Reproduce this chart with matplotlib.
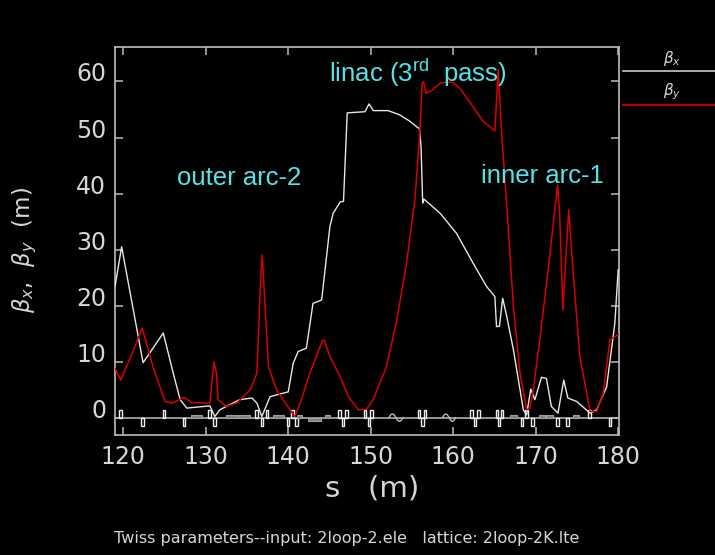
import numpy as np
import matplotlib
matplotlib.use("Agg")
import matplotlib.pyplot as plt
from matplotlib.patches import Rectangle
from matplotlib.lines import Line2D

plt.rcParams['mathtext.rm'] = 'Liberation Sans'
plt.rcParams['mathtext.it'] = 'Liberation Sans:italic'

# ---------------- data ----------------
s_bx = [119.0, 119.8, 122.4, 124.85, 126.06, 126.9, 127.7, 130.5, 131.1, 131.7, 134.1, 135.6,
        136.2, 136.8, 137.8, 140.0, 140.6, 141.2, 142.2, 143.0, 144.05, 145.05, 145.45,
        146.3, 146.7, 147.15, 149.3, 149.8, 150.3, 152.1, 153.5, 154.75, 155.75, 155.9,
        156.1, 156.3, 156.45, 158.4, 160.4, 162.4, 164.05, 165.05, 165.25, 165.6, 166.0,
        166.5, 167.3, 168.5, 168.9, 169.4, 169.9, 170.7, 171.3, 171.9, 172.7, 173.4, 173.9,
        174.95, 176.6, 177.4, 178.6, 179.6, 180.0]
beta_x = [23.4, 30.5, 9.8, 15.1, 7.9, 3.2, 1.7, 2.1, 0.2, 1.4, 3.2, 3.5,
          2.6, 0.2, 3.75, 4.6, 9.7, 11.8, 12.4, 20.4, 21.0, 34.1, 36.5,
          38.5, 38.6, 54.4, 54.6, 56.0, 54.8, 54.8, 54.05, 52.9, 51.7, 51.7,
          48.4, 38.3, 39.0, 36.5, 32.9, 27.6, 23.4, 21.6, 16.25, 16.3, 21.3,
          18.0, 12.1, 1.4, 0.5, 5.1, 3.2, 7.2, 7.0, 2.0, 0.8, 6.7, 3.5,
          2.9, 0.8, 1.4, 5.5, 16.9, 26.4]

s_by = [119.0, 119.7, 121.0, 122.3, 123.6, 125.05, 125.9, 127.35, 128.3, 130.5, 131.0, 131.3,
        131.5, 132.5, 133.75, 135.35, 136.2, 136.65, 136.85, 137.1, 137.6, 138.6, 140.2,
        140.8, 141.6, 142.6, 144.2, 144.4, 145.05, 146.3, 147.3, 148.5, 149.5, 150.3, 151.9,
        153.1, 154.35, 155.35, 155.9, 156.25, 156.4, 156.7, 157.4, 158.4, 159.2, 160.0,
        160.8, 162.4, 163.6, 165.05, 165.45, 165.9, 166.5, 167.3, 168.1, 168.9, 169.3,
        169.7, 170.5, 171.7, 172.65, 172.9, 173.3, 173.55, 174.0, 174.55, 175.35, 176.6,
        177.4, 178.2, 179.0, 180.0]
beta_y = [8.8, 6.7, 11.2, 16.0, 9.1, 2.9, 2.6, 3.6, 2.7, 2.6, 10.0, 7.9,
          3.2, 2.0, 2.6, 4.9, 7.9, 24.6, 29.05, 22.2, 9.1, 4.9, 1.4,
          0.2, 3.2, 7.9, 13.9, 13.7, 10.9, 7.3, 3.75, 1.4, 1.5, 3.2, 9.1,
          16.9, 27.6, 38.9, 49.6, 59.7, 60.0, 57.9, 58.4, 59.7, 59.9, 59.8,
          58.8, 55.5, 52.9, 51.2, 62.1, 50.2, 37.7, 19.8, 7.9, 1.4, 1.7,
          4.95, 13.9, 28.75, 41.55, 36.5, 19.2, 25.8, 37.1, 25.8, 10.9, 1.1,
          1.1, 4.4, 13.9, 14.8]

# lattice elements (positions in s)
quad_s = [119.67, 122.34, 124.92, 127.38, 130.45, 131.07, 136.19, 136.80, 137.42, 139.96,
          140.49, 140.98, 146.23, 146.64, 147.05, 149.30, 149.80, 150.12, 155.86, 156.27,
          156.56, 162.21, 162.62, 163.03, 165.29, 165.57, 165.90, 168.36, 168.85, 169.59,
          172.66, 173.89, 176.56, 179.02]
quad_side = [1, -1, 1, -1, 1, -1, 1, -1, 1, -1,
             1, -1, 1, -1, 1, 1, -1, 1, 1, -1,
             1, 1, -1, 1, 1, -1, 1, -1, 1, -1,
             -1, -1, 1, -1]
dip_start = [128.2, 132.4, 133.9, 138.1, 141.1, 142.4, 144.5, 166.9, 170.4, 171.2, 174.5]
dip_end = [129.6, 133.85, 135.4, 139.5, 141.7, 144.0, 145.1, 167.7, 171.15, 172.05, 175.3]
dip_side = [1, 1, 1, 1, 1, -1, 1, 1, 1, 1, 1]
cav_start = [152.2, 158.7]
cav_end = [153.9, 160.3]

x_ticks = [120, 130, 140, 150, 160, 170, 180]
y_ticks = [0, 10, 20, 30, 40, 50, 60]

# ---------------- figure ----------------
W, H = 715, 555
fig = plt.figure(figsize=(W / 100, H / 100), dpi=100, facecolor='black')
ax = fig.add_axes([114.7 / W, 1 - 435 / H, (619 - 114.7) / W, (435 - 47.3) / H],
                  facecolor='black')
ax.set_xlim(118.96, 180.1)
ax.set_ylim(-3.1, 66.1)

gray = '#bdbdbd'
txt = '#d6d6d6'
for sp in ax.spines.values():
    sp.set_color(gray)
    sp.set_linewidth(1.2)

ax.set_xticks(x_ticks)
ax.set_yticks(y_ticks)
ax.tick_params(direction='in', length=5.5, width=1.1, color=gray, top=True, right=True,
               labelsize=17, labelcolor=txt)
ax.tick_params(axis='x', pad=7)
ax.tick_params(axis='y', pad=6)
for t in ax.yaxis.get_major_ticks():
    t.label1.set_verticalalignment('baseline')

# lattice strip
ax.axhline(0, color=gray, lw=1.1, zorder=2)
for s, side in zip(quad_s, quad_side):
    h = 1.45
    ax.add_patch(Rectangle((s - 0.16, 0 if side > 0 else -h), 0.32, h,
                           fill=False, edgecolor='#f0f0f0', lw=1.0, zorder=3))
for a, b, side in zip(dip_start, dip_end, dip_side):
    h = 0.55
    ax.add_patch(Rectangle((a, 0 if side > 0 else -h), b - a, h,
                           facecolor='#808080', edgecolor='#a0a0a0', lw=0.8, zorder=3))
for a, b in zip(cav_start, cav_end):
    ss = np.linspace(a, b, 40)
    ax.plot(ss, 0.65 * np.sin(2 * np.pi * (ss - a) / (b - a)), color=gray, lw=1.0, zorder=3)

# beta functions
ax.plot(s_bx, beta_x, color='#e6e6e6', lw=1.0, zorder=4)
ax.plot(s_by, beta_y, color='#d80000', lw=1.1, zorder=5)

# annotations
cyan = '#55e3e6'
ax.text(126.47, 41.55, 'outer arc-2', color=cyan, fontsize=18.5,
        family='Liberation Sans', va='baseline', ha='left', zorder=6)
ax.text(144.93, 59.95, r'linac (3$^{\mathrm{rd}}$  pass)', color=cyan, fontsize=18.5,
        family='Liberation Sans', va='baseline', ha='left', math_fontfamily='custom', zorder=6)
ax.text(163.32, 41.9, 'inner arc-1', color=cyan, fontsize=18.5,
        family='Liberation Sans', va='baseline', ha='left', zorder=6)

# axis labels
fig.text(372 / W, 1 - 488 / H, 's   (m)', color=txt, fontsize=21, ha='center', va='center')
fig.text(25 / W, 1 - 250 / H, r'$\beta_x$,  $\beta_y$  (m)', color=txt, fontsize=16.5,
         rotation=90, ha='center', va='center')
fig.text(114 / W, 1 - 538 / H,
         'Twiss parameters--input: 2loop-2.ele   lattice: 2loop-2K.lte',
         color=txt, fontsize=11.5, ha='left', va='center')

# legend (outside, right)
fig.text(672 / W, 1 - 58 / H, r'$\beta_x$', color=txt, fontsize=11, ha='center', va='center')
fig.text(672 / W, 1 - 92 / H, r'$\beta_y$', color=txt, fontsize=11, ha='center', va='center')
fig.add_artist(Line2D([623 / W, 1.0], [1 - 71 / H, 1 - 71 / H], color='#c8c8c8', lw=1.2))
fig.add_artist(Line2D([623 / W, 1.0], [1 - 105 / H, 1 - 105 / H], color='#c00000', lw=1.5))

fig.savefig('out.png', dpi=100, facecolor='black')
